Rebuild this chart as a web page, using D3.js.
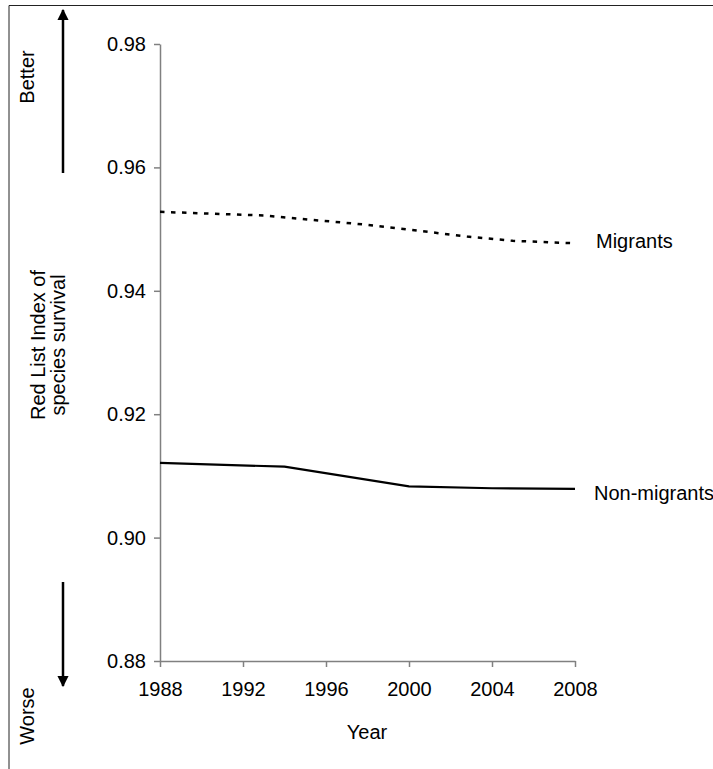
<!DOCTYPE html>
<html>
<head>
<meta charset="utf-8">
<script src="https://cdn.jsdelivr.net/npm/d3@7"></script>
<style>
body { margin: 0; background: #fff; }
text { font-family: "Liberation Sans", Arial, sans-serif; fill: #000; }
</style>
</head>
<body>
<svg id="chart" width="713" height="769"></svg>
<script>
var yearTicks = [1988, 1992, 1996, 2000, 2004, 2008];
var rliTicks = [0.88, 0.90, 0.92, 0.94, 0.96, 0.98];

var migrantYears = [1988, 1993, 1998, 2002.8, 2005, 2008];
var migrantValues = [0.9528, 0.9522, 0.9507, 0.9488, 0.9481, 0.9477];

var nonMigrantYears = [1988, 1994, 2000, 2004, 2008];
var nonMigrantValues = [0.9121, 0.9115, 0.9083, 0.9080, 0.9079];

var svg = d3.select("#chart");
var fontSize = 20;

var x = d3.scaleLinear().domain([1988, 2008]).range([160, 575]);
var y = d3.scaleLinear().domain([0.88, 0.98]).range([661, 44]);

// outer frame (only top and left edges show in the picture)
svg.append("line").attr("x1", 9).attr("y1", 5.5).attr("x2", 713).attr("y2", 5.5)
	.attr("stroke", "#222").attr("stroke-width", 1);
svg.append("line").attr("x1", 9).attr("y1", 5.5).attr("x2", 9).attr("y2", 769)
	.attr("stroke", "#222").attr("stroke-width", 1);

function style_axis(g) {
	g.select(".domain").attr("stroke", "#808080").attr("stroke-width", 1.5);
	g.selectAll(".tick line").attr("stroke", "#808080").attr("stroke-width", 1.5);
	g.selectAll(".tick text").attr("fill", "#000")
		.style("font-family", "'Liberation Sans', Arial, sans-serif")
		.style("font-size", fontSize + "px");
}

var yAxis = d3.axisLeft(y).tickValues(rliTicks).tickSize(6).tickSizeOuter(0).tickPadding(8)
	.tickFormat(d3.format(".2f"));
svg.append("g").attr("transform", "translate(160,0)").call(yAxis).call(style_axis);

var xAxis = d3.axisBottom(x).tickValues(yearTicks).tickSize(6).tickSizeOuter(0).tickPadding(15)
	.tickFormat(d3.format("d"));
svg.append("g").attr("transform", "translate(0,661)").call(xAxis).call(style_axis);

svg.append("text").attr("x", 367).attr("y", 739).attr("text-anchor", "middle")
	.style("font-size", fontSize + "px").text("Year");

// y axis title, two lines rotated
var title = svg.append("text").attr("transform", "translate(45,345) rotate(-90)")
	.attr("text-anchor", "middle").style("font-size", fontSize + "px");
title.append("tspan").attr("x", 0).attr("y", 0).text("Red List Index of");
title.append("tspan").attr("x", 0).attr("y", 20).text("species survival");

// better / worse arrows
var defs = svg.append("defs");
defs.append("marker").attr("id", "head")
	.attr("viewBox", "0 0 10 10").attr("refX", 9).attr("refY", 5)
	.attr("markerWidth", 4.5).attr("markerHeight", 4.5).attr("markerUnits", "strokeWidth")
	.attr("orient", "auto")
	.append("path").attr("d", "M0,0 L10,5 L0,10 Z").attr("fill", "#000");

svg.append("line").attr("x1", 63).attr("y1", 173).attr("x2", 63).attr("y2", 10)
	.attr("stroke", "#000").attr("stroke-width", 2.5).attr("marker-end", "url(#head)");
svg.append("line").attr("x1", 63).attr("y1", 582).attr("x2", 63).attr("y2", 686)
	.attr("stroke", "#000").attr("stroke-width", 2.5).attr("marker-end", "url(#head)");

svg.append("text").attr("transform", "translate(34,77) rotate(-90)")
	.attr("text-anchor", "middle").style("font-size", fontSize + "px").text("Better");
svg.append("text").attr("transform", "translate(34,716) rotate(-90)")
	.attr("text-anchor", "middle").style("font-size", fontSize + "px").text("Worse");

// series
var line = d3.line().x(function(d) { return x(d[0]); }).y(function(d) { return y(d[1]); });

svg.append("path").datum(d3.zip(migrantYears, migrantValues))
	.attr("d", line).attr("fill", "none").attr("stroke", "#000")
	.attr("stroke-width", 2.5).attr("stroke-dasharray", "4.5,6.5");
svg.append("path").datum(d3.zip(nonMigrantYears, nonMigrantValues))
	.attr("d", line).attr("fill", "none").attr("stroke", "#000")
	.attr("stroke-width", 2.2);

svg.append("text").attr("x", 596).attr("y", 248).style("font-size", fontSize + "px").text("Migrants");
svg.append("text").attr("x", 594).attr("y", 500).style("font-size", fontSize + "px").text("Non-migrants");
</script>
</body>
</html>
